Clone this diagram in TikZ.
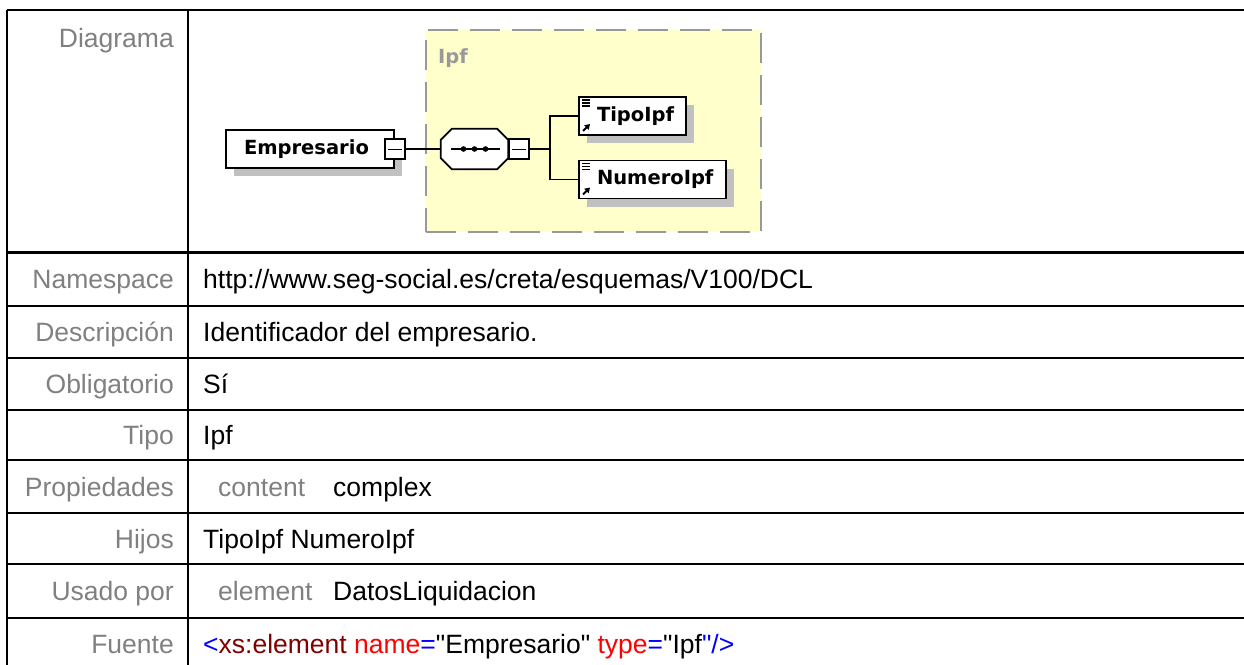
\documentclass[tikz,border=0pt]{standalone}
\usepackage{fontspec}
\setmainfont{Liberation Sans}[Ligatures=TeXOff]
\newfontfamily\xsdfont{DejaVu Sans}
\usetikzlibrary{shadows,arrows.meta}

\definecolor{lblgray}{HTML}{808080}
\definecolor{shadowgray}{HTML}{C0C0C0}
\definecolor{typeyellow}{HTML}{FFFFCC}
\definecolor{dashgray}{HTML}{999999}
\definecolor{tagblue}{HTML}{0000FF}
\definecolor{tagred}{HTML}{800000}
\definecolor{attrred}{HTML}{FF0000}

\tikzset{minusbox/.style={draw,fill=white,line width=1.6pt,minimum size=20pt,inner sep=0pt,append after command={
		[line width=1.6pt]
		([xshift=4pt]\tikzlastnode.west) edge ([xshift=-4pt]\tikzlastnode.east)
		}
	}
}
\tikzset{xsdshadow/.style={drop shadow={shadow xshift=8pt,shadow yshift=-8pt,fill=shadowgray,opacity=1}}}
\tikzstyle{elem}=[draw,fill=white,line width=1.8pt,minimum height=38pt,inner xsep=18pt,inner ysep=0pt,align=left,xsdshadow,font=\xsdfont\bfseries\fontsize{19.5}{22}\selectfont]
\tikzstyle{child}=[elem,path picture={
		\foreach \dy in {3,6,9}
			\draw[line width=1.2pt] ([xshift=3pt,yshift=-\dy pt]path picture bounding box.north west) -- ++(8pt,0pt);
		\draw[line width=2pt,-{Triangle[length=5pt,width=6pt]}] ([xshift=4pt,yshift=4pt]path picture bounding box.south west) -- ++(7pt,7pt);
	}]
\tikzstyle{seqbox}=[minimum width=67pt,minimum height=40pt,inner sep=0pt]
\tikzstyle{conn}=[line width=1.6pt]
\tikzstyle{grid}=[line width=2.4pt]
\tikzstyle{rowlabel}=[anchor=base east,inner sep=0pt,text=lblgray,font=\fontsize{26.5}{30}\selectfont]
\tikzstyle{rowvalue}=[anchor=base west,inner sep=0pt,font=\fontsize{26.5}{30}\selectfont]

\begin{document}
\begin{tikzpicture}[x=1pt,y=-1pt]
	\useasboundingbox (0,0) rectangle (1244,664);
	\clip (0,0) rectangle (1244,664);
	% table rules
	\foreach \yy in {10,252.5,306,358,410,460,513,564,618}
		\draw[grid] (7,\yy) -- (1250,\yy);
	\draw[grid] (7,10) -- (7,670);
	\draw[grid] (188,10) -- (188,670);
	\foreach \lab/\yy [count=\i] in {Diagrama/47,Namespace/288.75,Descripción/341.5,Obligatorio/393.5,Tipo/444.5,Propiedades/496,Hijos/548,Usado por/600.5,Fuente/653.5}
		\node[rowlabel] (lab\i) at (174,\yy) {\lab};
	\node[rowvalue] (ns) at (203,288.75) {http://www.seg-social.es/creta/esquemas/V100/DCL};
	\node[rowvalue] (desc) at (203,341.5) {Identificador del empresario.};
	\node[rowvalue] (oblig) at (203,393.5) {Sí};
	\node[rowvalue] (tipo) at (203,444.5) {Ipf};
	\node[rowvalue,text=lblgray] (propkey) at (218,496) {content};
	\node[rowvalue] (propval) at (333,496) {complex};
	\node[rowvalue] (hijos) at (203,548) {TipoIpf NumeroIpf};
	\node[rowvalue,text=lblgray] (usekey) at (218,600.5) {element};
	\node[rowvalue] (useval) at (333,600.5) {DatosLiquidacion};
	\node[rowvalue] (src) at (203,653.5) {\textcolor{tagblue}{<}\textcolor{tagred}{xs:element} \textcolor{attrred}{name}\textcolor{tagblue}{=}"Empresario" \textcolor{attrred}{type}\textcolor{tagblue}{=}"Ipf\textcolor{tagblue}{"/>}};
	% schema diagram
	\node[draw=dashgray,fill=typeyellow,line width=2pt,dash pattern=on 30pt off 12pt,minimum width=335pt,minimum height=202pt] (ipf) at (593.5,131) {};
	\node[anchor=base west,inner sep=0pt,text=dashgray,font=\xsdfont\bfseries\fontsize{19.5}{22}\selectfont] (ipflbl) at (438,63) {Ipf};
	\node[elem,text width=132pt] (emp) at (310,149) {Empresario};
	\node[minusbox] (empmin) at (emp.east) {};
	\node[seqbox] (seq) at (474.5,149) {};
	\fill[shadowgray,xshift=8pt,yshift=-8pt] ([xshift=11pt]seq.north west) -- ([xshift=-11pt]seq.north east) -- ([yshift=-11pt]seq.north east) -- ([yshift=11pt]seq.south east) -- ([xshift=-11pt]seq.south east) -- ([xshift=11pt]seq.south west) -- ([yshift=11pt]seq.south west) -- ([yshift=-11pt]seq.north west) -- cycle;
	\draw[fill=white,line width=1.8pt] ([xshift=11pt]seq.north west) -- ([xshift=-11pt]seq.north east) -- ([yshift=-11pt]seq.north east) -- ([yshift=11pt]seq.south east) -- ([xshift=-11pt]seq.south east) -- ([xshift=11pt]seq.south west) -- ([yshift=11pt]seq.south west) -- ([yshift=-11pt]seq.north west) -- cycle;
	\node[minusbox,anchor=west] (seqmin) at (seq.east) {};
	\draw[conn] ([xshift=10pt]seq.west) -- ([xshift=-8pt]seq.east);
	\foreach \dx in {-11,0,11}
		\fill ([xshift=\dx pt]seq.center) circle (2.8pt);
	\node[child,text width=71pt] (tipoipf) at (632.5,116) {TipoIpf};
	\node[child,text width=111pt] (numeroipf) at (652.5,179.5) {NumeroIpf};
	\draw[conn] (empmin.east) -- (seq.west);
	\draw[conn] (seqmin.east) -- ++(20,0) coordinate (fork);
	\draw[conn] (fork) |- (tipoipf.west);
	\draw[conn] (fork) |- (numeroipf.west);
\end{tikzpicture}
\end{document}
